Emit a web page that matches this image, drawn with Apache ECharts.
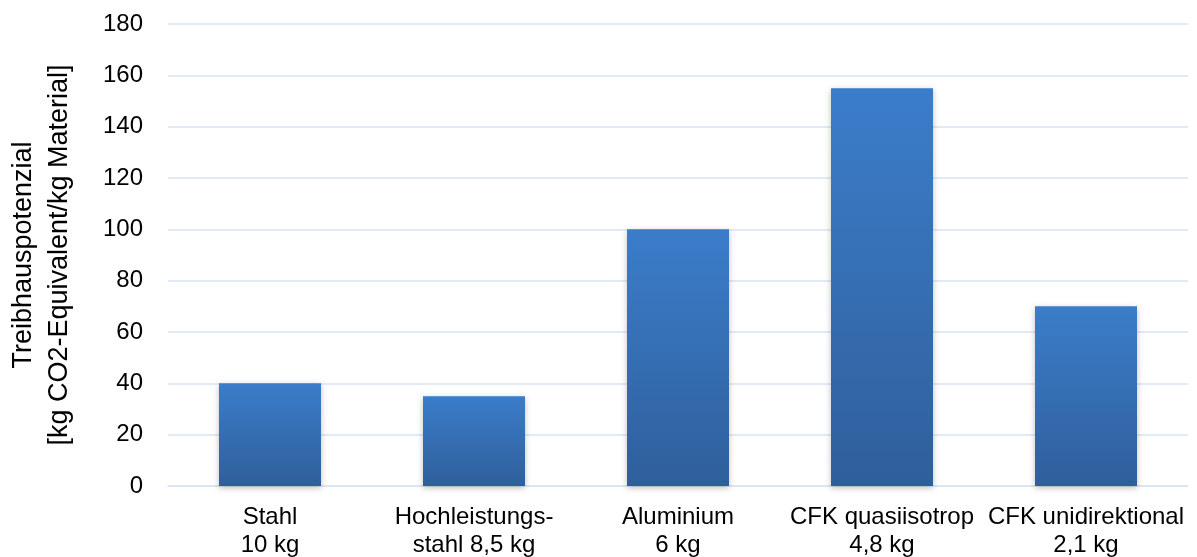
<!DOCTYPE html>
<html>
<head>
<meta charset="utf-8">
<script src="https://cdn.jsdelivr.net/npm/echarts@6/dist/echarts.min.js"></script>
<style>
  html, body { margin: 0; padding: 0; background: #fff; }
  #chart { width: 1197px; height: 557px; }
</style>
</head>
<body>
<div id="chart"></div>
<script>
// ===== Data =====
const materials = ['Stahl\n10 kg', 'Hochleistungs-\nstahl 8,5 kg', 'Aluminium\n6 kg', 'CFK quasiisotrop\n4,8 kg', 'CFK unidirektional\n2,1 kg'];
const gwpValues = [40, 35, 100, 155, 70];
const yTicks = { min: 0, max: 180, step: 20 };

const FONT = 'Liberation Sans, Arial, sans-serif';
const GRID_COLOR = '#d9e3f2';

const chart = echarts.init(document.getElementById('chart'));
chart.setOption({
  animation: false,
  grid: { left: 168, right: 9, top: 24, bottom: 71, outerBoundsMode: 'none', containLabel: false },
  xAxis: {
    type: 'category',
    data: materials,
    axisLine: { lineStyle: { color: GRID_COLOR, width: 1.5 } },
    axisTick: { show: false },
    axisLabel: { color: '#000', fontFamily: FONT, fontSize: 24, lineHeight: 28, margin: 17, interval: 0 }
  },
  yAxis: {
    type: 'value',
    min: yTicks.min, max: yTicks.max, interval: yTicks.step,
    name: 'Treibhauspotenzial\n[kg CO2-Equivalent/kg Material]',
    nameLocation: 'middle',
    nameGap: 90,
    nameTextStyle: { color: '#000', fontFamily: FONT, fontSize: 27, lineHeight: 36 },
    axisLine: { show: false },
    axisTick: { show: false },
    axisLabel: { color: '#000', fontFamily: FONT, fontSize: 24, margin: 25 },
    splitLine: { lineStyle: { color: GRID_COLOR, width: 1.5 } }
  },
  series: [{
    type: 'bar',
    data: gwpValues,
    barWidth: '50%',
    itemStyle: {
      color: { type: 'linear', x: 0, y: 0, x2: 0, y2: 1, colorStops: [
        { offset: 0, color: '#3b7dca' },
        { offset: 1, color: '#2f5f9b' }
      ]},
      shadowColor: 'rgba(0,0,0,0.25)',
      shadowBlur: 6,
      shadowOffsetY: 2
    }
  }]
});
</script>
</body>
</html>
